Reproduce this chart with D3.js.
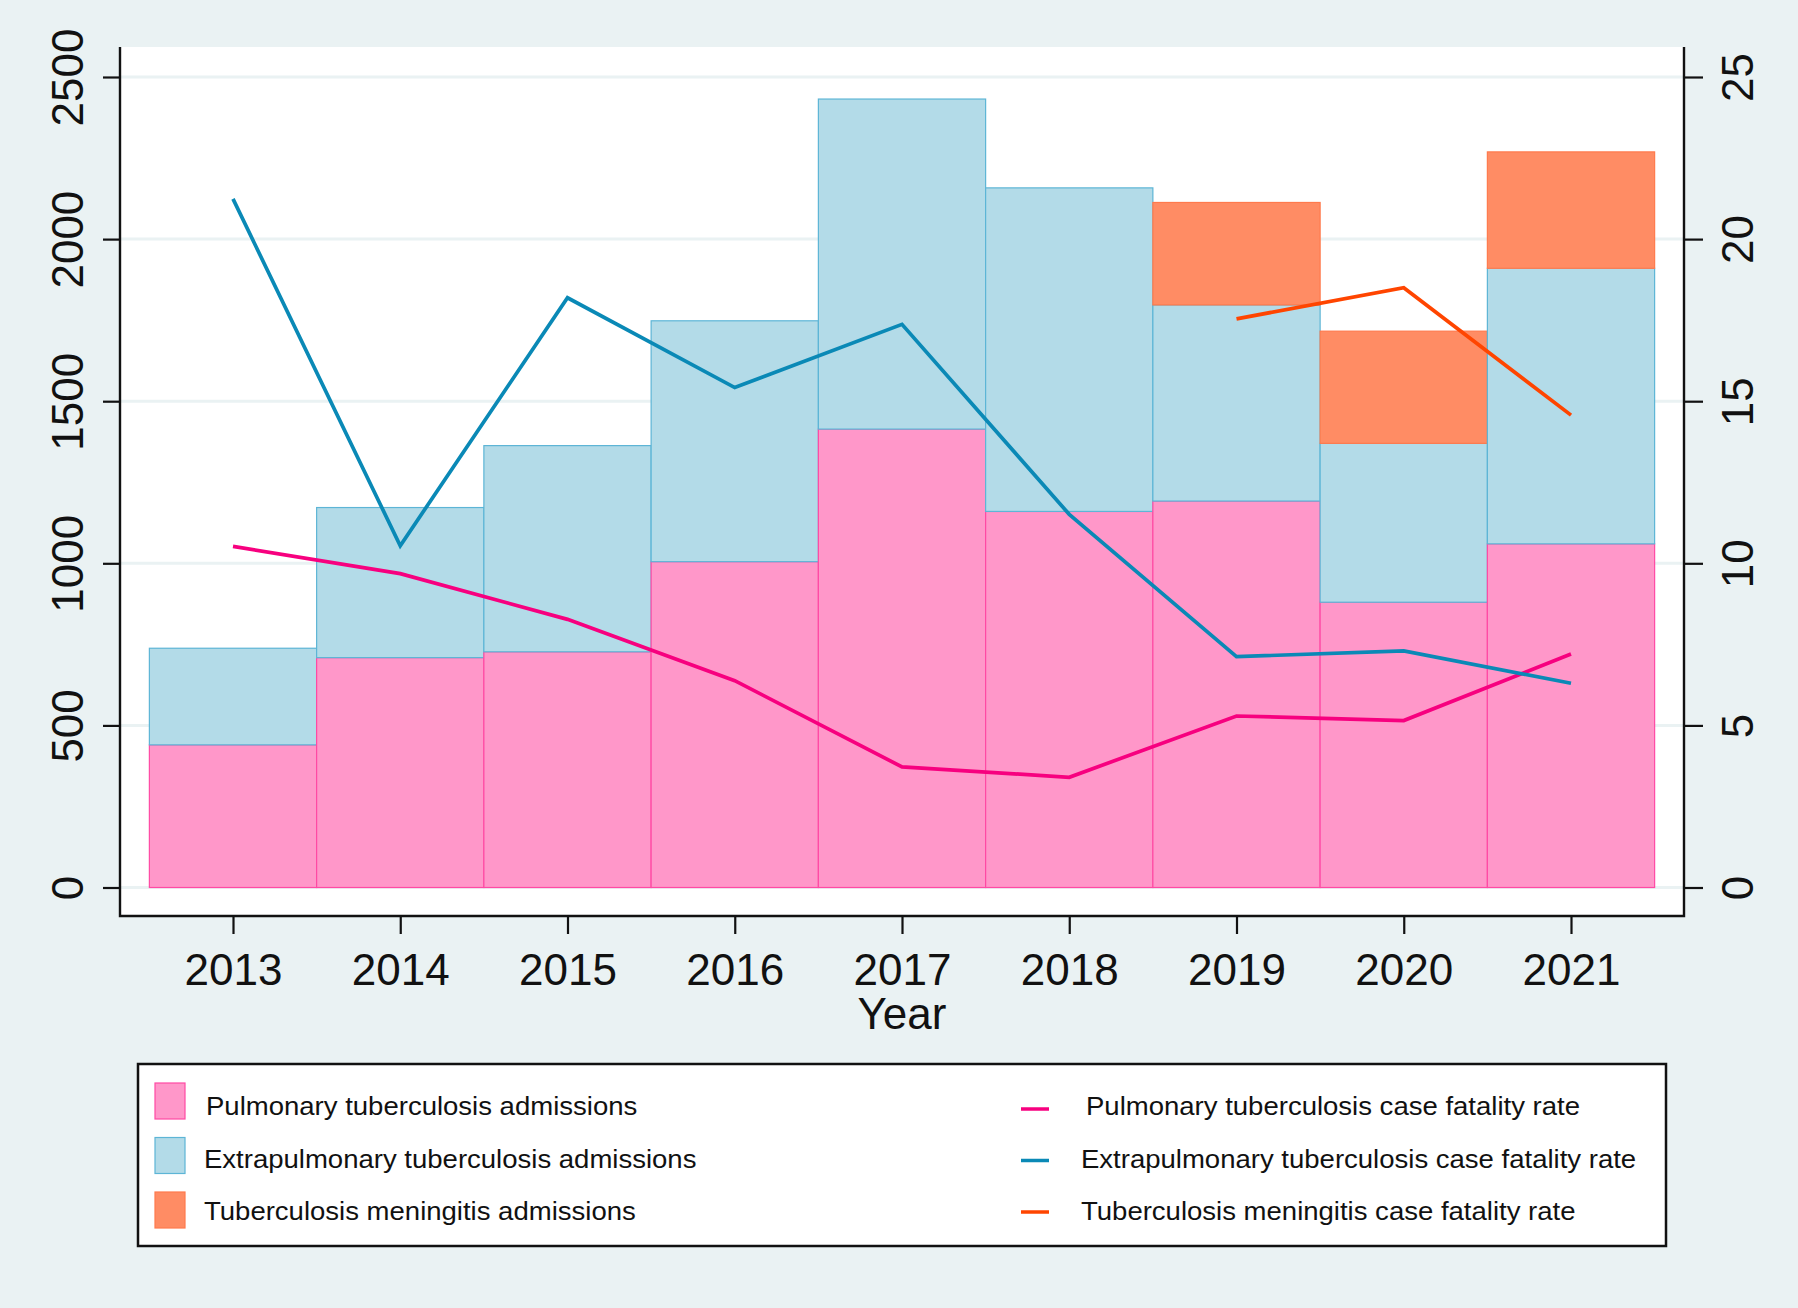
<!DOCTYPE html>
<html>
<head>
<meta charset="utf-8">
<script src="https://cdn.jsdelivr.net/npm/d3@7"></script>
<style>
  html, body { margin: 0; padding: 0; background: #eaf2f3; }
  svg { display: block; font-family: "Liberation Sans", Arial, sans-serif; }
</style>
</head>
<body>
<div id="chart"></div>
<script>
// values
const years = [2013, 2014, 2015, 2016, 2017, 2018, 2019, 2020, 2021];
const pulmonary = [440, 709, 727, 1005, 1414, 1160, 1192, 880, 1060];
const extrapulmonary = [298, 463, 636, 743, 1018, 998, 605, 490, 850];
const meningitis = [null, null, null, null, null, null, 316, 346, 359];

const pulmonaryCFR = [10.52, 9.68, 8.27, 6.38, 3.72, 3.40, 5.29, 5.15, 7.20];
const extrapulmonaryCFR = [21.24, 10.54, 18.19, 15.42, 17.37, 11.51, 7.12, 7.30, 6.30];
const meningitisCFR = [null, null, null, null, null, null, 17.54, 18.50, 14.57];

const leftTicks = [0, 500, 1000, 1500, 2000, 2500];
const rightTicks = [0, 5, 10, 15, 20, 25];

const barLabels = ["Pulmonary tuberculosis admissions",
                   "Extrapulmonary tuberculosis admissions",
                   "Tuberculosis meningitis admissions"];
const lineLabels = ["Pulmonary tuberculosis case fatality rate",
                    "Extrapulmonary tuberculosis case fatality rate",
                    "Tuberculosis meningitis case fatality rate"];

const barFill = ["#ff97c9", "#b3dbe8", "#ff8c64"];
const barStroke = ["#ff4aa4", "#5db5d6", "#ff7a4d"];
const lineColor = ["#f7007f", "#0a89b6", "#ff4500"];

const w = 1798, h = 1308;
const plot = {left: 120, right: 1684, top: 47, bottom: 916};

const x = d3.scaleLinear().domain([2013, 2021]).range([233, 1571]);
const yL = d3.scaleLinear().domain([0, 2500]).range([887.5, 77]);
const yR = d3.scaleLinear().domain([0, 25]).range([887.5, 77]);

const svg = d3.select("#chart").append("svg")
    .attr("width", w)
    .attr("height", h);

svg.append("rect").attr("width", w).attr("height", h).attr("fill", "#eaf2f3");

svg.append("rect")
    .attr("x", plot.left).attr("y", plot.top)
    .attr("width", plot.right - plot.left)
    .attr("height", plot.bottom - plot.top)
    .attr("fill", "#fff");

// gridlines
svg.append("g").selectAll("line")
    .data(leftTicks)
    .enter().append("line")
    .attr("x1", plot.left).attr("x2", plot.right)
    .attr("y1", d => yL(d)).attr("y2", d => yL(d))
    .attr("stroke", "#eaf2f3")
    .attr("stroke-width", 3);

// stacked bars
const stack = years.map((yr, i) => {
    const p = pulmonary[i], e = extrapulmonary[i], m = meningitis[i];
    const segs = [{k: 0, y0: 0, y1: p}, {k: 1, y0: p, y1: p + e}];
    if (m != null) segs.push({k: 2, y0: p + e, y1: p + e + m});
    return segs.map(s => Object.assign({year: yr}, s));
}).flat();

svg.append("g").selectAll("rect")
    .data(stack)
    .enter().append("rect")
    .attr("x", d => x(d.year - 0.5))
    .attr("width", d => x(d.year + 0.5) - x(d.year - 0.5))
    .attr("y", d => yL(d.y1))
    .attr("height", d => yL(d.y0) - yL(d.y1))
    .attr("fill", d => barFill[d.k])
    .attr("stroke", d => barStroke[d.k])
    .attr("stroke-width", 1.2);

// rate lines
const line = d3.line()
    .defined(d => d.v != null)
    .x(d => x(d.year))
    .y(d => yR(d.v));

[pulmonaryCFR, extrapulmonaryCFR, meningitisCFR].forEach((series, k) => {
    svg.append("path")
        .datum(series.map((v, i) => ({year: years[i], v: v})))
        .attr("d", line)
        .attr("fill", "none")
        .attr("stroke", lineColor[k])
        .attr("stroke-width", 3.7)
        .attr("stroke-linejoin", "miter");
});

// axes
const xAxis = svg.append("g")
    .attr("transform", "translate(0," + plot.bottom + ")")
    .call(d3.axisBottom(x).tickValues(years).tickFormat(d3.format("d")).tickSize(18).tickSizeOuter(0));
xAxis.select(".domain").remove();
xAxis.selectAll("text").attr("y", 69).attr("dy", 0)
    .style("font-size", "44px").attr("fill", "#111");

const leftAxis = svg.append("g")
    .attr("transform", "translate(" + plot.left + ",0)")
    .call(d3.axisLeft(yL).tickValues(leftTicks).tickFormat(d3.format("d")).tickSize(17).tickSizeOuter(0));
leftAxis.select(".domain").remove();
leftAxis.selectAll("text")
    .attr("x", null).attr("dy", 0)
    .attr("transform", "translate(-37,0) rotate(-90)")
    .attr("text-anchor", "middle")
    .style("font-size", "44px").attr("fill", "#111");

const rightAxis = svg.append("g")
    .attr("transform", "translate(" + plot.right + ",0)")
    .call(d3.axisRight(yR).tickValues(rightTicks).tickFormat(d3.format("d")).tickSize(19).tickSizeOuter(0));
rightAxis.select(".domain").remove();
rightAxis.selectAll("text")
    .attr("x", null).attr("dy", 0)
    .attr("transform", "translate(69,0) rotate(-90)")
    .attr("text-anchor", "middle")
    .style("font-size", "44px").attr("fill", "#111");

svg.selectAll(".tick line").attr("stroke", "#111").attr("stroke-width", 2.2);

svg.append("path")
    .attr("d", "M" + plot.left + "," + plot.top + "V" + plot.bottom + "H" + plot.right + "V" + plot.top)
    .attr("fill", "none")
    .attr("stroke", "#111")
    .attr("stroke-width", 2.4);

svg.append("text")
    .attr("x", x(2017)).attr("y", 1029)
    .attr("text-anchor", "middle")
    .style("font-size", "44px").attr("fill", "#111")
    .text("Year");

// legend
const legend = svg.append("g").attr("id", "legend");
legend.append("rect")
    .attr("x", 138).attr("y", 1064)
    .attr("width", 1528).attr("height", 182)
    .attr("fill", "#fff")
    .attr("stroke", "#111")
    .attr("stroke-width", 2.5);

legend.selectAll("rect.sw")
    .data(barLabels)
    .enter().append("rect")
    .attr("class", "sw")
    .attr("x", 155)
    .attr("y", (d, i) => 1083 + i * 54.5)
    .attr("width", 30).attr("height", 36)
    .attr("fill", (d, i) => barFill[i])
    .attr("stroke", (d, i) => barStroke[i])
    .attr("stroke-width", 1.2);

legend.selectAll("text.bl")
    .data(barLabels)
    .enter().append("text")
    .attr("class", "bl")
    .attr("transform", (d, i) => "translate(" + (i === 0 ? 206 : 204) + "," + (1115 + i * 52.5) + ") scale(1.08,1)")
    .style("font-size", "25.5px").attr("fill", "#111")
    .text(d => d);

legend.selectAll("line.mk")
    .data(lineLabels)
    .enter().append("line")
    .attr("class", "mk")
    .attr("x1", 1021).attr("x2", 1049)
    .attr("y1", (d, i) => 1109 + i * 51.5)
    .attr("y2", (d, i) => 1109 + i * 51.5)
    .attr("stroke", (d, i) => lineColor[i])
    .attr("stroke-width", 3.5);

legend.selectAll("text.ll")
    .data(lineLabels)
    .enter().append("text")
    .attr("class", "ll")
    .attr("transform", (d, i) => "translate(" + (i === 0 ? 1086 : 1081) + "," + (1115 + i * 52.5) + ") scale(1.08,1)")
    .style("font-size", "25.5px").attr("fill", "#111")
    .text(d => d);
</script>
</body>
</html>
